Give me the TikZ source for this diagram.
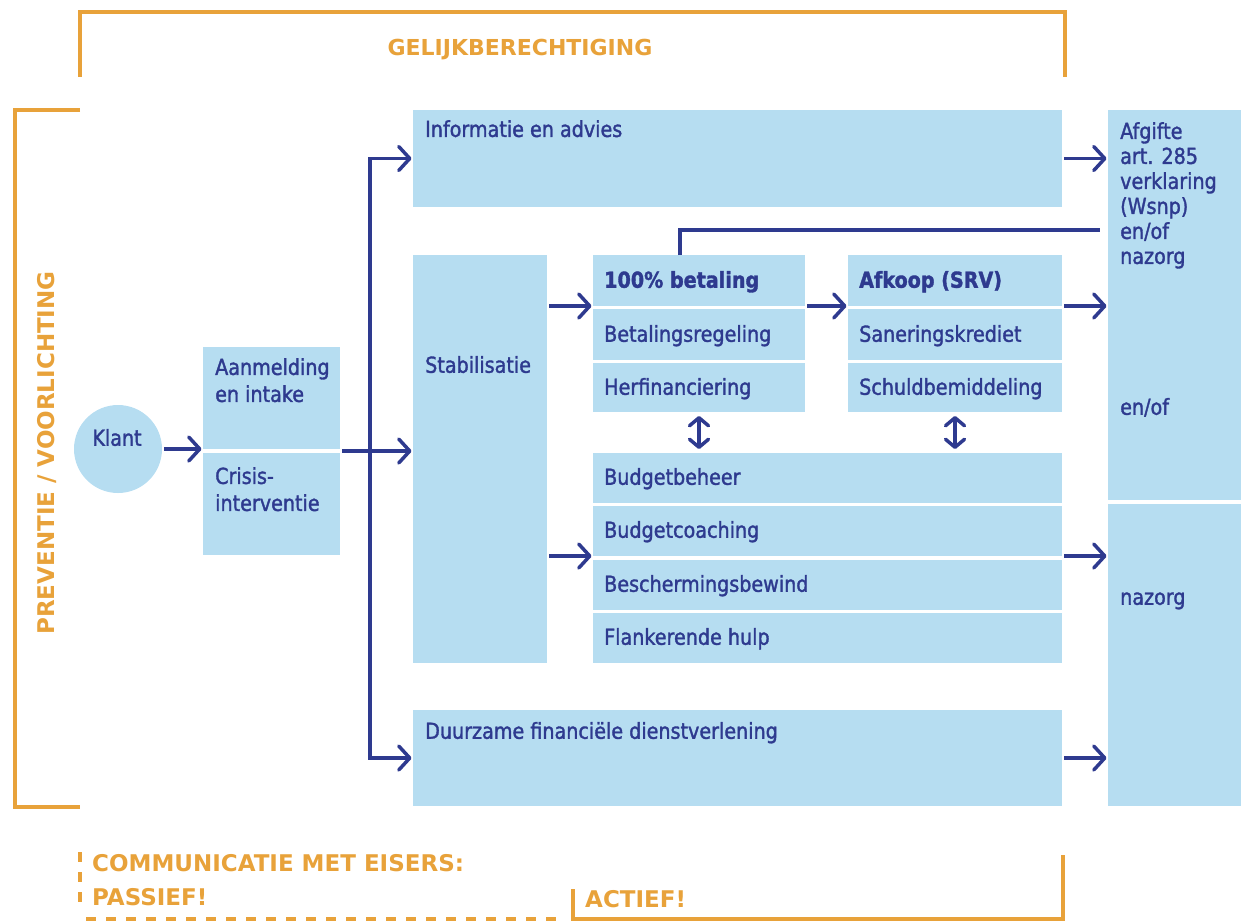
\documentclass[tikz,border=0pt]{standalone}
\usepackage{fontspec}
\setmainfont{DejaVu Sans}[FakeStretch=0.87,FakeBold=1.5]
\newfontfamily\headfont{DejaVu Sans}
\usetikzlibrary{arrows.meta}
\definecolor{boxblue}{HTML}{B6DDF1}
\definecolor{navy}{HTML}{2E3A8F}
\definecolor{orng}{HTML}{E8A23A}
\newcommand{\mybox}[5]{\node[box,minimum width={#4-#2},minimum height={#5-#3}] (#1) at ({(#2+#4)/2},{(#3+#5)/2}) {};}
\begin{document}
\begin{tikzpicture}[x=1pt,y=-1pt,
  box/.style={fill=boxblue,draw=none,inner sep=0pt,outer sep=0pt,rectangle},
  txt/.style={text=navy,inner sep=0pt,anchor=west,text height=16pt,text depth=4.5pt,font=\fontsize{22}{25}\selectfont},
  mtxt/.style={text=navy,inner sep=0pt,anchor=north west,align=left,font=\fontsize{22}{25}\selectfont},
  head/.style={text=orng,inner sep=0pt,font=\headfont\bfseries\fontsize{23}{28}\selectfont},
  conn/.style={navy,line width=3.5pt},
  arr/.style={conn,shorten <=2pt,shorten >=1.5pt,-{Straight Barb[length=11pt,width=24pt,round]}},
  darr/.style={conn,{Straight Barb[length=8pt,width=19pt,round]}-{Straight Barb[length=8pt,width=19pt,round]}},
  obr/.style={orng,line width=4pt},
  odash/.style={orng,line width=4.5pt,dash pattern=on 10pt off 10pt}
]
\useasboundingbox (0,0) rectangle (1241,922);

% top bracket
\draw[obr] (80,77) |- (1065,12) -- (1065,77);
\node[head,font=\headfont\bfseries\fontsize{22}{28}\selectfont] (gelijk) at (520,50) {GELIJKBERECHTIGING};

% left bracket
\draw[obr] (80,110) -| (15,807) -- (80,807);
\node[head,rotate=90] (prev) at (47,453) {PREVENTIE / VOORLICHTING};

% boxes
\node[circle,fill=boxblue,inner sep=0pt,minimum size=88pt] (klant) at (118,449) {};
\node[txt,anchor=center] (klantT) at (117,440) {Klant};

\mybox{aan}{203}{347}{340}{449}
\mybox{crisis}{203}{453}{340}{555}
\node[mtxt] (aanT) at (215,358) {Aanmelding\\[2pt]en intake};
\node[mtxt] (crisisT) at (215,467) {Crisis-\\[2pt]interventie};

\mybox{info}{413}{110}{1062}{207}
\node[mtxt] (infoT) at (425,120) {Informatie en advies};

\mybox{stab}{413}{255}{547}{663}
\node[txt] (stabT) at (425,367) {Stabilisatie};

\mybox{p1}{593}{255}{805}{306}
\mybox{p2}{593}{309}{805}{360}
\mybox{p3}{593}{363}{805}{412}
\node[txt,font=\bfseries\fontsize{22}{25}\selectfont] (p1T) at (604,282) {100\% betaling};
\node[txt] (p2T) at (604,336) {Betalingsregeling};
\node[txt] (p3T) at (604,389) {Herfinanciering};

\mybox{a1}{848}{255}{1062}{306}
\mybox{a2}{848}{309}{1062}{360}
\mybox{a3}{848}{363}{1062}{412}
\node[txt,font=\bfseries\fontsize{22}{25}\selectfont] (a1T) at (859,282) {Afkoop (SRV)};
\node[txt] (a2T) at (859,336) {Saneringskrediet};
\node[txt] (a3T) at (859,389) {Schuldbemiddeling};

\mybox{b1}{593}{453}{1062}{503}
\mybox{b2}{593}{506}{1062}{556}
\mybox{b3}{593}{560}{1062}{610}
\mybox{b4}{593}{613}{1062}{663}
\node[txt] (b1T) at (604,479) {Budgetbeheer};
\node[txt] (b2T) at (604,532) {Budgetcoaching};
\node[txt] (b3T) at (604,586) {Beschermingsbewind};
\node[txt] (b4T) at (604,639) {Flankerende hulp};

\mybox{duur}{413}{710}{1062}{806}
\node[txt] (duurT) at (425,733) {Duurzame financiële dienstverlening};

\mybox{rtop}{1108}{110}{1241}{500}
\mybox{rbot}{1108}{504}{1241}{806}
\node[mtxt] (rtopT) at (1120,122) {Afgifte\\art. 285\\verklaring\\(Wsnp)\\en/of\\nazorg};
\node[txt] (enof) at (1120,409) {en/of};
\node[txt] (nazorg) at (1120,599) {nazorg};

% connectors
\coordinate (split) at (370,451);
\coordinate (lineY) at (0,230);
\draw[arr] (klant.east) -- (klant.east -| aan.west);
\draw[arr] ([yshift=-2pt]aan.south east) -- ([yshift=-2pt]aan.south east -| stab.west);
\draw[arr] (split) |- (info.west);
\draw[arr] (split) |- (duur.west);
\draw[arr] (stab.east |- p1.south) -- (p1.south west);
\draw[arr] (p1.south east) -- (a1.south west);
\draw[arr] (a1.south east) -- (a1.south east -| rtop.west);
\draw[arr] (info.east) -- (info.east -| rtop.west);
\draw[arr] (stab.east |- b2.south) -- (b2.south west);
\draw[arr] (b2.south east) -- (b2.south east -| rbot.west);
\draw[arr] (duur.east) -- (duur.east -| rbot.west);
\draw[conn,shorten >=8pt] ([xshift=87pt]p1.north west) |- (rtop.west |- lineY);
\draw[darr] ([yshift=-4pt]p3.south) -- ([yshift=4pt]p3.south |- b1.north);
\draw[darr] ([yshift=-4pt]a3.south) -- ([yshift=4pt]a3.south |- b1.north);

% bottom
\draw[odash] (80,852) -- (80,912);
\draw[odash] (86,919) -- (566,919);
\draw[obr] (573,889) -- (573,919) -- (1063,919) -- (1063,855);
\node[head,anchor=west] (comm) at (92,863) {COMMUNICATIE MET EISERS:};
\node[head,anchor=west] (pass) at (92,897) {PASSIEF!};
\node[head,anchor=west] (act) at (585,899) {ACTIEF!};
\end{tikzpicture}
\end{document}
